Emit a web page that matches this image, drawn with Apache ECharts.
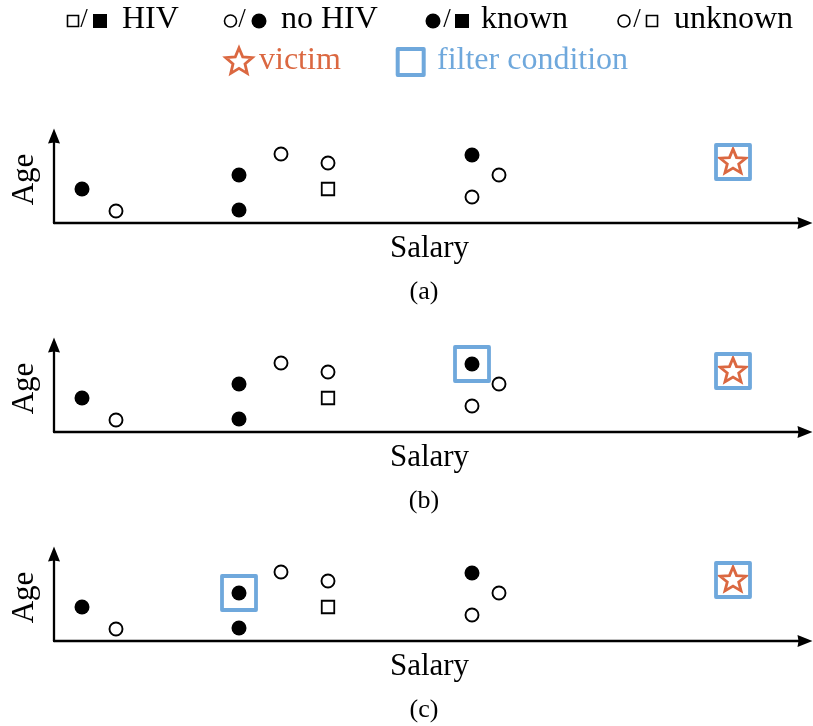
<!DOCTYPE html>
<html>
<head>
<meta charset="utf-8">
<script src="https://cdn.jsdelivr.net/npm/echarts@6/dist/echarts.min.js"></script>
<style>
  html, body { margin: 0; padding: 0; background: #fff; }
  #chart { width: 813px; height: 726px; }
</style>
</head>
<body>
<div id="chart"></div>
<script>
// Records with known HIV status and no HIV (filled circles)
const knownSalary = [28, 185, 185, 418];
const knownAge = [34, 48, 13, 68];
// Records with unknown status, no HIV (open circles)
const openSalary = [62, 227, 274, 445, 418];
const openAge = [12, 69, 60, 48, 26];
// Record with unknown status, HIV (open square)
const hivSalary = [274];
const hivAge = [34];
// The victim
const victimSalary = [679];
const victimAge = [62];
// Filter conditions applied in each step (a), (b), (c)
const filterSalary = [[679], [679, 418], [679, 185]];
const filterAge = [[61], [61, 68], [61, 48]];
const captions = ['(a)', '(b)', '(c)'];

const FONT = '"Liberation Serif", "Times New Roman", serif';
const ORANGE = '#DB6841';
const BLUE = '#6FA8DC';

const zip = (xs, ys) => xs.map((x, i) => [x, ys[i]]);

// five-pointed star outline, tip up
function starPoints(cx, cy, R, r) {
  const pts = [];
  for (let k = 0; k < 10; k++) {
    const a = -Math.PI / 2 + k * Math.PI / 5;
    const rad = k % 2 === 0 ? R : r;
    pts.push([cx + rad * Math.cos(a), cy + rad * Math.sin(a)]);
  }
  return pts;
}
const starPath = 'path://' + starPoints(50, 50, 50, 22)
  .map((p, i) => (i === 0 ? 'M' : 'L') + p[0].toFixed(2) + ',' + p[1].toFixed(2)).join(' ') + ' Z';
const arrowPath = 'path://M6,0 L12,15 L6,14 L0,15 Z';

const panelTops = [136, 345, 554];
const plotHeight = 87;

const grids = [], xAxes = [], yAxes = [], series = [], captionTexts = [];

panelTops.forEach((top, i) => {
  grids.push({ left: 54, right: 8, top: top, height: plotHeight,
               containLabel: false, outerBoundsMode: 'none' });
  const axisLine = {
    show: true,
    symbol: ['none', arrowPath],
    symbolSize: [12, 15],
    lineStyle: { color: '#000', width: 2.3 }
  };
  xAxes.push({
    gridIndex: i, type: 'value', min: 0, max: 751,
    axisLine: axisLine, axisTick: { show: false }, axisLabel: { show: false },
    splitLine: { show: false },
    name: 'Salary', nameLocation: 'middle', nameGap: 10,
    nameTextStyle: { fontFamily: FONT, fontSize: 31, color: '#000', verticalAlign: 'top' }
  });
  yAxes.push({
    gridIndex: i, type: 'value', min: 0, max: plotHeight,
    axisLine: axisLine, axisTick: { show: false }, axisLabel: { show: false },
    splitLine: { show: false },
    name: 'Age', nameLocation: 'middle', nameGap: 14, nameRotate: 90,
    nameTextStyle: { fontFamily: FONT, fontSize: 31, color: '#000' }
  });

  const base = { type: 'scatter', xAxisIndex: i, yAxisIndex: i, silent: true, animation: false };
  series.push(Object.assign({}, base, {
    name: 'known', data: zip(knownSalary, knownAge), symbol: 'circle', symbolSize: 15,
    itemStyle: { color: '#000', opacity: 1 }
  }));
  series.push(Object.assign({}, base, {
    name: 'unknown', data: zip(openSalary, openAge), symbol: 'circle', symbolSize: 13,
    itemStyle: { color: '#fff', borderColor: '#000', borderWidth: 1.9, opacity: 1 }
  }));
  series.push(Object.assign({}, base, {
    name: 'HIV', data: zip(hivSalary, hivAge), symbol: 'rect', symbolSize: 12.5,
    itemStyle: { color: '#fff', borderColor: '#000', borderWidth: 1.8, opacity: 1 }
  }));
  series.push(Object.assign({}, base, {
    name: 'victim', data: zip(victimSalary, victimAge), symbol: starPath,
    symbolSize: [26, 25], symbolKeepAspect: true,
    itemStyle: { color: '#fff', borderColor: ORANGE, borderWidth: 2.8, borderJoin: 'miter', opacity: 1 }
  }));
  series.push(Object.assign({}, base, {
    name: 'filter condition', data: zip(filterSalary[i], filterAge[i]), symbol: 'rect',
    symbolSize: 34, z: 3,
    itemStyle: { color: 'rgba(0,0,0,0)', borderColor: BLUE, borderWidth: 3.8, borderJoin: 'round', opacity: 1 }
  }));

  captionTexts.push({
    type: 'text', z: 10,
    style: { text: captions[i], x: 424, y: top + 156, font: '26px ' + FONT, fill: '#000',
             align: 'center', verticalAlign: 'middle', textAlign: 'center', textVerticalAlign: 'middle' }
  });
});

// legend, first row: marker key
function txt(s, x, y, size, color, align) {
  return {
    type: 'text', z: 10,
    style: { text: s, x: x, y: y, font: size + 'px ' + FONT, fill: color,
             align: align || 'left', verticalAlign: 'middle',
             textAlign: align || 'left', textVerticalAlign: 'middle' }
  };
}
function sq(cx, cy, s, filled) {
  return {
    type: 'rect', z: 10,
    shape: { x: cx - s / 2, y: cy - s / 2, width: s, height: s },
    style: filled ? { fill: '#000' } : { fill: '#fff', stroke: '#000', lineWidth: 1.6 }
  };
}
function circ(cx, cy, r, filled) {
  return {
    type: 'circle', z: 10,
    shape: { cx: cx, cy: cy, r: r },
    style: filled ? { fill: '#000' } : { fill: '#fff', stroke: '#000', lineWidth: 1.6 }
  };
}
const ly = 21;
const legendRow1 = [
  sq(73, ly, 11, false), txt('/', 84, ly - 1, 27, '#000', 'center'), sq(100, ly, 14, true),
  txt('HIV', 122, ly - 1, 32, '#000'),
  circ(230.5, ly, 6, false), txt('/', 242, ly - 1, 27, '#000', 'center'), circ(259, ly, 7.5, true),
  txt('no HIV', 281, ly - 1, 32, '#000'),
  circ(433, ly, 7.5, true), txt('/', 447, ly - 1, 27, '#000', 'center'), sq(462, ly, 14, true),
  txt('known', 481, ly - 1, 32, '#000'),
  circ(624, ly, 6, false), txt('/', 637, ly - 1, 27, '#000', 'center'), sq(652, ly, 11, false),
  txt('unknown', 674, ly - 1, 32, '#000')
];
// legend, second row: victim and filter condition
const legendRow2 = [
  { type: 'polygon', z: 10, shape: { points: starPoints(239, 62, 14, 6.3) },
    style: { fill: '#fff', stroke: ORANGE, lineWidth: 2.8 } },
  txt('victim', 259, 61, 32, ORANGE),
  { type: 'rect', z: 10, shape: { x: 397.7, y: 49, width: 26, height: 26 },
    style: { fill: 'none', stroke: BLUE, lineWidth: 4, lineJoin: 'round' } },
  txt('filter condition', 437, 61, 32, BLUE)
];

const chart = echarts.init(document.getElementById('chart'), null, { renderer: 'canvas' });
chart.setOption({
  animation: false,
  backgroundColor: '#fff',
  grid: grids,
  xAxis: xAxes,
  yAxis: yAxes,
  series: series,
  graphic: captionTexts.concat(legendRow1, legendRow2)
});
</script>
</body>
</html>
